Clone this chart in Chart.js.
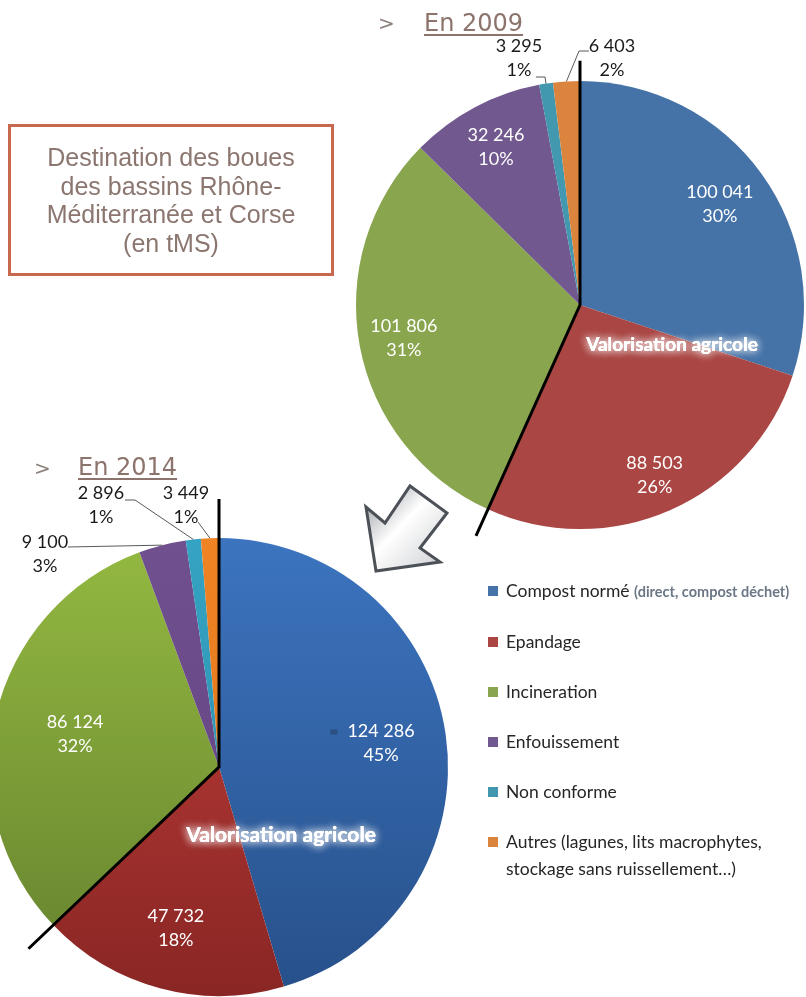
<!DOCTYPE html>
<html lang="fr">
<head>
<meta charset="utf-8">
<script src="https://cdn.jsdelivr.net/npm/chart.js@4.4.1/dist/chart.umd.min.js"></script>
<style>
  html, body { margin: 0; padding: 0; background: #fff; }
  body { position: relative; width: 806px; height: 997px; overflow: hidden; font-family: Lato, sans-serif; }
  canvas { position: absolute; top: 0; }
  #chart2009 { left: 0; }
  #chart2014 { left: -20px; }
  .titlebox {
    position: absolute; left: 8px; top: 124px; width: 320px; height: 146px;
    border: 3px solid #c8684f; display: flex; align-items: center; justify-content: center;
    text-align: center; color: #8b7670; font-family: "Liberation Sans", Arial, sans-serif;
    font-size: 25px; line-height: 28.5px;
  }
  .chev { position: absolute; font-family: "DejaVu Sans", sans-serif; font-size: 20px; color: #8c807c; }
  .year { position: absolute; font-family: "DejaVu Sans", sans-serif; font-size: 24px; color: #8c736c; text-decoration: underline; text-underline-offset: 3px; }
  #legend { position: absolute; left: 488px; top: 0; }
  .item { position: absolute; left: 0; white-space: nowrap; font-size: 17.5px; color: #262626; line-height: 27px; }
  .item i { position: absolute; left: 0; top: 9px; width: 10px; height: 10px; }
  .item span { position: absolute; left: 18px; top: 0; }
  .item small { font-size: 14.5px; font-weight: bold; color: #6b7785; }
</style>
</head>
<body>
<canvas id="chart2009" width="806" height="997"></canvas>
<canvas id="chart2014" width="826" height="997"></canvas>

<div class="titlebox">Destination des boues<br>des bassins Rhône-<br>Méditerranée et Corse<br>(en tMS)</div>

<div class="chev" style="left:378px; top:11px;">&gt;</div>
<div class="year" style="left:424px; top:9px;">En 2009</div>
<div class="chev" style="left:34px; top:456px;">&gt;</div>
<div class="year" style="left:78px; top:453px;">En 2014</div>

<svg width="806" height="997" style="position:absolute; left:0; top:0;">
  <defs>
    <linearGradient id="ag" x1="0" y1="0" x2="1" y2="1">
      <stop offset="0" stop-color="#8e9196"/>
      <stop offset="0.45" stop-color="#ffffff"/>
      <stop offset="1" stop-color="#c9cbce"/>
    </linearGradient>
  </defs>
  <polygon points="366,507 376,571 440,562 420,548 447,513 410,486 385,523"
           fill="url(#ag)" stroke="#4c5158" stroke-width="3"/>
</svg>

<div id="legend"></div>

<script>
const categories = ['Compost normé', 'Epandage', 'Incineration', 'Enfouissement', 'Non conforme',
  'Autres (lagunes, lits macrophytes,'];
const categoryNotes = ['(direct, compost déchet)', '', '', '', '', 'stockage sans ruissellement…)'];
const values2009 = [100041, 88503, 101806, 32246, 3295, 6403];
const values2014 = [124286, 47732, 86124, 9100, 2896, 3449];
const colors2009 = ['#4572a7', '#aa4643', '#89a54e', '#71588f', '#4198af', '#db843d'];
const colors2014Top = ['#3c74bf', '#c43f3b', '#94b941', '#71508f', '#35a3c3', '#f08424'];
const colors2014Bottom = ['#27508a', '#892624', '#64812e', '#5f4080', '#2a8aa6', '#d86f18'];
const groupLabel = 'Valorisation agricole';

// legend
const legend = document.getElementById('legend');
const legendRows = [577, 628, 678, 728, 778, 828];
categories.forEach((c, i) => {
  const d = document.createElement('div');
  d.className = 'item';
  d.style.top = legendRows[i] + 'px';
  let txt = c;
  if (i === 0) txt += ' <small>' + categoryNotes[0] + '</small>';
  if (i === 5) txt += '<br>' + categoryNotes[5];
  d.innerHTML = '<i style="background:' + colors2009[i] + '"></i><span>' + txt + '</span>';
  legend.appendChild(d);
});

function fmt(v) { return String(v).replace(/\B(?=(\d{3})+(?!\d))/g, ' '); }

// percentages rounded so that they add up to 100
function roundedPercents(vals) {
  const total = vals.reduce((a, b) => a + b, 0);
  const raw = vals.map(v => v / total * 100);
  const out = raw.map(Math.floor);
  const left = 100 - out.reduce((a, b) => a + b, 0);
  raw.map((r, i) => [r - Math.floor(r), i])
    .sort((a, b) => b[0] - a[0])
    .slice(0, left)
    .forEach(([, i]) => out[i]++);
  return out;
}

const pieLabels = {
  id: 'pieLabels',
  afterDatasetsDraw(chart, args, opts) {
    const ctx = chart.ctx;
    const arcs = chart.getDatasetMeta(0).data;
    const vals = chart.data.datasets[0].data;
    const pcts = roundedPercents(vals);
    const p0 = arcs[0].getProps(['x', 'y', 'outerRadius'], true);
    const cx = p0.x, cy = p0.y, R = p0.outerRadius;
    const at = (ang, r) => [cx + Math.cos(ang) * r, cy + Math.sin(ang) * r];
    const lh = 24;

    ctx.save();
    ctx.textAlign = 'center';
    ctx.textBaseline = 'middle';
    ctx.font = '18px Lato';

    arcs.forEach((arc, i) => {
      const a = arc.getProps(['startAngle', 'endAngle'], true);
      const mid = (a.startAngle + a.endAngle) / 2;
      const l1 = fmt(vals[i]), l2 = pcts[i] + '%';
      if (opts.inside[i] != null) {
        const [x, y] = at(mid, R * opts.inside[i]);
        ctx.fillStyle = '#fff';
        ctx.fillText(l1, x, y - lh / 2);
        ctx.fillText(l2, x, y + lh / 2);
        if (opts.keyMark === i) {
          const w = ctx.measureText(l1).width;
          ctx.fillStyle = '#2a4f80';
          ctx.fillRect(x - w / 2 - 17, y - lh / 2 - 2, 7, 5);
        }
      } else if (opts.outside[i]) {
        const o = opts.outside[i];
        const [sx, sy] = at(mid, R);
        ctx.strokeStyle = '#595959';
        ctx.lineWidth = 1;
        ctx.beginPath();
        ctx.moveTo(sx, sy);
        if (o.elbow) ctx.lineTo(cx + o.elbow[0], cy + o.elbow[1]);
        ctx.lineTo(cx + o.end[0], cy + o.end[1]);
        ctx.stroke();
        ctx.fillStyle = '#1a1a1a';
        ctx.fillText(l1, cx + o.text[0], cy + o.text[1] - lh / 2);
        ctx.fillText(l2, cx + o.text[0], cy + o.text[1] + lh / 2);
      }
    });

    // lines around the "valorisation agricole" group (first two slices)
    const g0 = arcs[0].getProps(['startAngle'], true).startAngle;
    const g1 = arcs[1].getProps(['endAngle'], true).endAngle;
    ctx.strokeStyle = '#000';
    ctx.lineWidth = 3;
    ctx.beginPath();
    ctx.moveTo(...at(g0, R * opts.groupLines[0]));
    ctx.lineTo(cx, cy);
    ctx.lineTo(...at(g1, R * opts.groupLines[1]));
    ctx.stroke();

    ctx.font = 'bold ' + opts.groupFont + 'px Lato';
    ctx.fillStyle = '#fff';
    ctx.shadowColor = 'rgba(255,255,255,0.95)';
    ctx.shadowBlur = 8;
    const tx = cx + opts.groupText[0], ty = cy + opts.groupText[1];
    ctx.fillText(groupLabel, tx, ty);
    ctx.fillText(groupLabel, tx, ty);
    ctx.shadowBlur = 0;
    ctx.fillText(groupLabel, tx, ty);
    ctx.restore();
  }
};

const baseOptions = {
  responsive: false,
  animation: false,
  events: [],
  plugins: { legend: { display: false }, tooltip: { enabled: false } }
};

new Chart(document.getElementById('chart2009').getContext('2d'), {
  type: 'pie',
  data: {
    labels: categories,
    datasets: [{
      data: values2009,
      backgroundColor: colors2009,
      borderWidth: 0,
      hoverOffset: 0,
      offset: 0
    }]
  },
  options: {
    ...baseOptions,
    layout: { padding: { left: 356, top: 81, right: 2, bottom: 468 } },
    plugins: {
      ...baseOptions.plugins,
      pieLabels: {
        inside: [0.77, 0.83, 0.80, 0.80, null, null],
        outside: {
          4: { text: [-61, -247], elbow: [-35, -228], end: [-44, -228] },
          5: { text: [32, -247], elbow: [-1, -254], end: [9, -254] }
        },
        groupLines: [1.09, 1.13],
        groupText: [92, 40],
        groupFont: 19
      }
    }
  },
  plugins: [pieLabels]
});

function gradientFill(context) {
  const chart = context.chart;
  const area = chart.chartArea;
  const i = context.dataIndex;
  if (!area) return colors2014Top[i];
  const g = chart.ctx.createLinearGradient(0, area.top, 0, area.bottom);
  g.addColorStop(0, colors2014Top[i]);
  g.addColorStop(1, colors2014Bottom[i]);
  return g;
}

new Chart(document.getElementById('chart2014').getContext('2d'), {
  type: 'pie',
  data: {
    labels: categories,
    datasets: [{
      data: values2014,
      backgroundColor: gradientFill,
      borderWidth: 0,
      hoverOffset: 0,
      offset: 0
    }]
  },
  options: {
    ...baseOptions,
    layout: { padding: { left: 10, top: 538, right: 358, bottom: 1 } },
    plugins: {
      ...baseOptions.plugins,
      pieLabels: {
        inside: [0.715, 0.73, 0.645, null, null, null],
        keyMark: 0,
        outside: {
          3: { text: [-174, -213], end: [-151, -220] },
          4: { text: [-118, -262], elbow: [-84, -267], end: [-94, -267] },
          5: { text: [-33, -262], end: [-21, -245] }
        },
        groupLines: [1.17, 1.15],
        groupText: [62, 68],
        groupFont: 21
      }
    }
  },
  plugins: [pieLabels]
});
</script>
</body>
</html>
